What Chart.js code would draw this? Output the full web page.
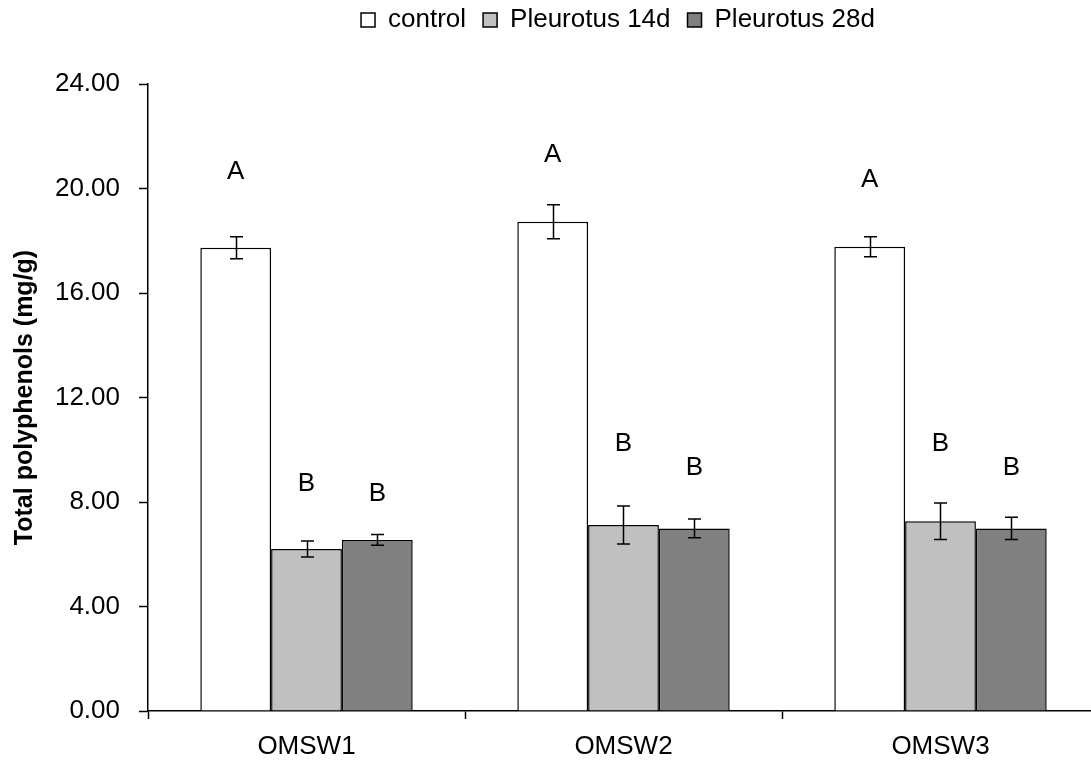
<!DOCTYPE html>
<html>
<head>
<meta charset="utf-8">
<script src="https://cdn.jsdelivr.net/npm/chart.js@4"></script>
<style>
  html, body { margin: 0; padding: 0; background: #fff; overflow: hidden; }
  #wrap { width: 1100px; height: 763px; }
</style>
</head>
<body>
<div id="wrap"><canvas id="polyChart" width="1100" height="763"></canvas></div>
<script>
// values
const categories = ['OMSW1', 'OMSW2', 'OMSW3'];
const seriesNames = ['control', 'Pleurotus 14d', 'Pleurotus 28d'];

const control = [17.73, 18.73, 17.77];
const controlErr = [0.42, 0.65, 0.38];
const pleu14 = [6.20, 7.12, 7.26];
const pleu14Err = [0.31, 0.73, 0.70];
const pleu28 = [6.55, 6.99, 6.99];
const pleu28Err = [0.21, 0.36, 0.43];

// significance letters and the value height they sit at
const controlLetters = ['A', 'A', 'A'];
const controlLetterAt = [20.63, 21.28, 20.33];
const pleu14Letters = ['B', 'B', 'B'];
const pleu14LetterAt = [8.69, 10.22, 10.22];
const pleu28Letters = ['B', 'B', 'B'];
const pleu28LetterAt = [8.31, 9.30, 9.30];

const yTicks = [0, 4, 8, 12, 16, 20, 24];

Chart.defaults.font.family = '"Liberation Sans", Arial, sans-serif';
Chart.defaults.color = '#000';

// move the legend up/right to where the figure has it
const legendNudge = {
    id: 'legendNudge',
    afterLayout(chart) {
        const lg = chart.legend;
        const dx = 618 - (lg.left + lg.right) / 2;
        const dy = -10 - lg.top;
        lg.left += dx; lg.right += dx;
        lg.top += dy; lg.bottom += dy;
    }
};

// error bars + letters
const extras = {
    id: 'extras',
    afterDatasetsDraw(chart) {
        const ctx = chart.ctx;
        const y = chart.scales.y;
        ctx.save();
        ctx.strokeStyle = '#000';
        ctx.lineWidth = 1.5;
        ctx.fillStyle = '#000';
        ctx.font = '26px "Liberation Sans", Arial, sans-serif';
        ctx.textAlign = 'center';
        ctx.textBaseline = 'middle';
        chart.data.datasets.forEach((ds, i) => {
            const meta = chart.getDatasetMeta(i);
            meta.data.forEach((bar, j) => {
                const v = ds.data[j], e = ds.errors[j];
                const top = y.getPixelForValue(v + e);
                const bot = y.getPixelForValue(v - e);
                const x = Math.round(bar.x) + 0.5;
                ctx.beginPath();
                ctx.moveTo(x, top); ctx.lineTo(x, bot);
                ctx.moveTo(x - 6.5, top); ctx.lineTo(x + 6.5, top);
                ctx.moveTo(x - 6.5, bot); ctx.lineTo(x + 6.5, bot);
                ctx.stroke();
                ctx.fillText(ds.letters[j], bar.x, y.getPixelForValue(ds.letterAt[j]));
            });
        });
        ctx.restore();
    }
};

const ctx = document.getElementById('polyChart').getContext('2d');
const polyChart = new Chart(ctx, {
    type: 'bar',
    data: {
        labels: categories,
        datasets: [{
            label: seriesNames[0],
            data: control,
            errors: controlErr,
            letters: controlLetters,
            letterAt: controlLetterAt,
            backgroundColor: '#ffffff',
            borderColor: '#000',
            borderWidth: 1.5
        }, {
            label: seriesNames[1],
            data: pleu14,
            errors: pleu14Err,
            letters: pleu14Letters,
            letterAt: pleu14LetterAt,
            backgroundColor: '#c0c0c0',
            borderColor: '#000',
            borderWidth: 1.5
        }, {
            label: seriesNames[2],
            data: pleu28,
            errors: pleu28Err,
            letters: pleu28Letters,
            letterAt: pleu28LetterAt,
            backgroundColor: '#808080',
            borderColor: '#000',
            borderWidth: 1.5
        }]
    },
    options: {
        responsive: false,
        animation: false,
        events: [],
        categoryPercentage: 0.67,
        barPercentage: 1.0,
        layout: { padding: { top: 31, right: 1, left: 0, bottom: 0 } },
        plugins: {
            legend: {
                display: true,
                position: 'top',
                labels: {
                    boxWidth: 14,
                    boxHeight: 14,
                    padding: 17,
                    color: '#000',
                    font: { size: 26 }
                }
            },
            tooltip: { enabled: false }
        },
        scales: {
            x: {
                offset: true,
                grid: {
                    offset: true,
                    drawOnChartArea: false,
                    drawTicks: true,
                    tickLength: 8,
                    tickColor: '#000',
                    tickWidth: 1.5
                },
                border: { color: '#000', width: 1.5 },
                ticks: { color: '#000', font: { size: 26 }, padding: 12 },
                afterFit: s => { s.height = 52; }
            },
            y: {
                min: 0,
                max: 24,
                afterBuildTicks: s => { s.ticks = yTicks.map(v => ({ value: v })); },
                ticks: {
                    color: '#000',
                    font: { size: 26 },
                    padding: 19,
                    callback: v => Number(v).toFixed(2)
                },
                grid: {
                    drawOnChartArea: false,
                    tickLength: 9,
                    tickColor: '#000',
                    tickWidth: 1.5
                },
                border: { color: '#000', width: 1.5 },
                title: {
                    display: true,
                    text: 'Total polyphenols (mg/g)',
                    color: '#000',
                    font: { size: 25, weight: 'bold' },
                    padding: { top: 10, bottom: 0 }
                },
                afterFit: s => { s.width = 148; }
            }
        }
    },
    plugins: [legendNudge, extras]
});
</script>
</body>
</html>
